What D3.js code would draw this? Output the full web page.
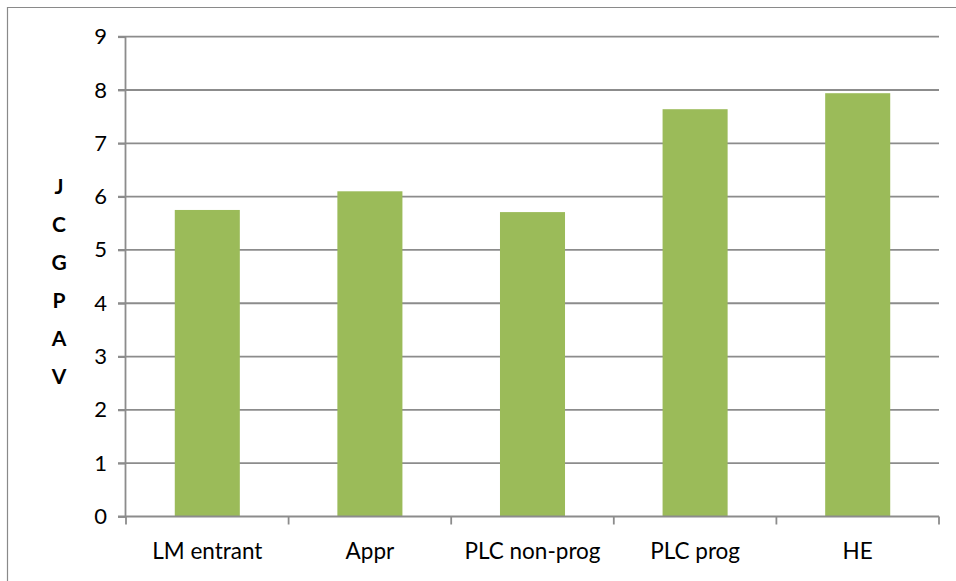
<!DOCTYPE html>
<html><head><meta charset="utf-8">
<script src="https://cdn.jsdelivr.net/npm/d3@7"></script>
<style>body{margin:0;background:#fff}svg{display:block}text{font-family:Lato,"Open Sans",sans-serif}</style>
</head><body>
<svg id="c" width="956" height="581"></svg>
<script>
const categories = ["LM entrant","Appr","PLC non-prog","PLC prog","HE"];
const values = [5.75, 6.10, 5.71, 7.64, 7.94];
const yTicks = [0,1,2,3,4,5,6,7,8,9];
const yTitle = ["J","C","G","P","A","V"];

const svg = d3.select("#c");
const m = {left:126, right:939, top:36.7, bottom:516.5};
const x = d3.scaleBand().domain(categories).range([m.left, m.right]).paddingInner(0.6).paddingOuter(0.3);
const y = d3.scaleLinear().domain([0,9]).range([m.bottom, m.top]);
const grid = "#8c8c8c";

// outer border (top + left)
svg.append("path").attr("d","M7.5,581V7.5H956").attr("fill","none").attr("stroke","#8a8a8a").attr("stroke-width",1.2);

// gridlines
svg.append("g").selectAll("line").data(yTicks.filter(d=>d>0)).join("line")
  .attr("x1",m.left-8).attr("x2",m.right).attr("y1",d=>y(d)).attr("y2",d=>y(d))
  .attr("stroke",grid).attr("stroke-width",1.8);

// bars
svg.append("g").selectAll("rect").data(values).join("rect")
  .attr("x",(d,i)=>x(categories[i])).attr("width",x.bandwidth())
  .attr("y",d=>y(d)).attr("height",d=>y(0)-y(d)).attr("fill","#9BBB59");

// y axis
const ya = svg.append("g").attr("transform",`translate(${m.left},0)`)
  .call(d3.axisLeft(y).tickValues(yTicks).tickSize(8).tickPadding(11));
ya.selectAll("path,line").attr("stroke",grid).attr("stroke-width",1.8);
ya.select(".domain").attr("d",`M-0.5,${m.bottom}V${m.top}`);
ya.selectAll("text").attr("font-size",22).attr("fill","#000").attr("font-family","Lato");

// x axis
const xa = svg.append("g").attr("transform",`translate(0,${m.bottom})`);
xa.append("line").attr("x1",m.left-8).attr("x2",m.right).attr("stroke",grid).attr("stroke-width",1.8);
const step = (m.right-m.left)/categories.length;
xa.selectAll("line.t").data(d3.range(categories.length+1)).join("line").attr("class","t")
  .attr("x1",i=>m.left+i*step).attr("x2",i=>m.left+i*step).attr("y1",0).attr("y2",8)
  .attr("stroke",grid).attr("stroke-width",1.8);
xa.selectAll("text").data(categories).join("text")
  .attr("x",d=>x(d)+x.bandwidth()/2).attr("y",42).attr("text-anchor","middle")
  .attr("font-size",22.5).attr("fill","#000").text(d=>d);

// y title stacked
svg.append("g").selectAll("text").data(yTitle).join("text")
  .attr("x",59).attr("y",(d,i)=>194+i*38).attr("text-anchor","middle")
  .attr("font-size",21).attr("font-weight","bold").attr("fill","#000").text(d=>d);
</script>
</body></html>
